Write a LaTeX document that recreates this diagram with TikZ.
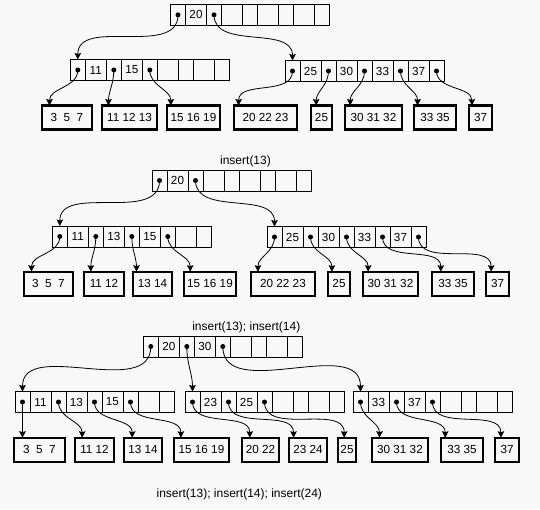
\documentclass[tikz,border=0pt]{standalone}
\usepackage{fontspec}
\setmainfont{Liberation Sans}
\usetikzlibrary{arrows.meta,calc}
\definecolor{bgc}{HTML}{F8F8F8}
\tikzset{
  cellp/.style={draw=black, line width=0.8pt, minimum width=15pt, minimum height=21pt, inner sep=0pt, outer sep=0pt, anchor=north west},
  cellk/.style={cellp, minimum width=21pt, font=\fontsize{11.7}{12}\selectfont},
  leafbox/.style={draw=black, line width=2.4pt, inner sep=0pt, outer sep=0pt, minimum height=24pt, font=\fontsize{11.7}{12}\selectfont},
  ptr/.style={line width=0.8pt, -{Stealth[length=6.5pt,width=6.5pt,inset=1pt]}},
  lbl/.style={font=\fontsize{12}{13}\selectfont, inner sep=0pt},
}
\newcommand{\bnode}[7]{%
  \node[cellp] (#1p0) at (#2,#3) {};
  \node[cellk] (#1k1) at (#1p0.north east) {#4};
  \node[cellp] (#1p1) at (#1k1.north east) {};
  \node[cellk] (#1k2) at (#1p1.north east) {#5};
  \node[cellp] (#1p2) at (#1k2.north east) {};
  \node[cellk] (#1k3) at (#1p2.north east) {#6};
  \node[cellp] (#1p3) at (#1k3.north east) {};
  \node[cellk] (#1k4) at (#1p3.north east) {#7};
  \node[cellp] (#1p4) at (#1k4.north east) {};
}
\newcommand{\leaf}[5]{%
  \node[leafbox, minimum width={(#3-#2-2.4)*1pt}] (#1) at ({(#2+#3)/2},#4) {#5};
}
\newcommand{\conn}[2]{%
  \fill (#1.center) circle[radius=2.5pt];
  \draw[ptr] (#1.center) to[out=-90,in=90] (#2);
}
\begin{document}
\begin{tikzpicture}[x=1pt,y=-1pt]
\fill[bgc] (0,0) rectangle (540,509);
\useasboundingbox (0,0) rectangle (540,509);

% ---------- tree 1 ----------
\bnode{t1r}{170.5}{4.3}{20}{}{}{}
\bnode{t1L}{70.3}{59.5}{11}{15}{}{}
\bnode{t1R}{285}{60.5}{25}{30}{33}{37}
\leaf{t1a}{41}{93}{117.5}{3~~5~~7}
\leaf{t1b}{101}{158}{117.5}{11 12 13}
\leaf{t1c}{166}{221}{117.5}{15 16 19}
\leaf{t1d}{233}{298}{117.5}{20 22 23}
\leaf{t1e}{310}{333}{117.5}{25}
\leaf{t1f}{344}{403}{117.5}{30 31 32}
\leaf{t1g}{413}{457}{117.5}{33 35}
\leaf{t1h}{468}{493}{117.5}{37}
\conn{t1rp0}{t1Lp0.north}
\conn{t1rp1}{t1Rp0.north}
\conn{t1Lp0}{$(t1a.north west)+(7.3,0)$}
\conn{t1Lp1}{$(t1b.north west)+(6.3,0)$}
\conn{t1Lp2}{$(t1c.north west)+(3.6,0)$}
\conn{t1Rp0}{$(t1d.north west)+(4.4,0)$}
\conn{t1Rp1}{$(t1e.north west)+(5,0)$}
\conn{t1Rp2}{$(t1f.north west)+(5,0)$}
\conn{t1Rp3}{$(t1g.north west)+(3.4,0)$}
\conn{t1Rp4}{$(t1h.north west)+(2.7,0)$}

% ---------- tree 2 ----------
\node[lbl] (lab1) at (245.5,161) {insert(13)};
\bnode{t2r}{152}{170}{20}{}{}{}
\bnode{t2L}{52.3}{226}{11}{13}{15}{}
\bnode{t2R}{267}{226.5}{25}{30}{33}{37}
\leaf{t2a}{23}{74}{283.7}{3~~5~~7}
\leaf{t2b}{83}{125}{283.7}{11 12}
\leaf{t2c}{132}{173}{283.7}{13 14}
\leaf{t2d}{183}{237}{283.7}{15 16 19}
\leaf{t2e}{250}{316}{283.7}{20 22 23}
\leaf{t2f}{327}{351}{283.7}{25}
\leaf{t2g}{362}{419}{283.7}{30 31 32}
\leaf{t2h}{431}{475}{283.7}{33 35}
\leaf{t2i}{485}{510}{283.7}{37}
\conn{t2rp0}{t2Lp0.north}
\conn{t2rp1}{t2Rp0.north}
\conn{t2Lp0}{$(t2a.north west)+(7.3,0)$}
\conn{t2Lp1}{$(t2b.north west)+(6.6,0)$}
\conn{t2Lp2}{$(t2c.north west)+(3.3,0)$}
\conn{t2Lp3}{$(t2d.north west)+(6,0)$}
\conn{t2Rp0}{$(t2e.north west)+(6.7,0)$}
\conn{t2Rp1}{$(t2f.north west)+(3.7,0)$}
\conn{t2Rp2}{$(t2g.north west)+(5,0)$}
\conn{t2Rp3}{$(t2h.north west)+(8.6,0)$}
\conn{t2Rp4}{$(t2i.north west)+(5,0)$}

% ---------- tree 3 ----------
\node[lbl] (lab2) at (246.3,327.5) {insert(13); insert(14)};
\bnode{t3r}{143.3}{336}{20}{30}{}{}
\bnode{t3A}{15}{391.5}{11}{13}{15}{}
\bnode{t3B}{185}{391.5}{23}{25}{}{}
\bnode{t3C}{353}{391.5}{33}{37}{}{}
\leaf{t3a}{13}{66}{449.7}{3~~5~~7}
\leaf{t3b}{74}{115}{449.7}{11 12}
\leaf{t3c}{123}{163}{449.7}{13 14}
\leaf{t3d}{173}{230}{449.7}{15 16 19}
\leaf{t3e}{241}{280}{449.7}{20 22}
\leaf{t3f}{288}{328}{449.7}{23 24}
\leaf{t3g}{337}{357}{449.7}{25}
\leaf{t3h}{371}{429}{449.7}{30 31 32}
\leaf{t3i}{440}{484}{449.7}{33 35}
\leaf{t3j}{494}{520}{449.7}{37}
\conn{t3rp0}{t3Ap0.north}
\conn{t3rp1}{t3Bp0.north}
\conn{t3rp2}{t3Cp0.north}
\conn{t3Ap0}{t3Ap0.center |- t3a.north}
\conn{t3Ap1}{$(t3b.north west)+(7,0)$}
\conn{t3Ap2}{$(t3c.north west)+(8,0)$}
\conn{t3Ap3}{$(t3d.north west)+(6.7,0)$}
\conn{t3Bp0}{$(t3e.north west)+(7.6,0)$}
\conn{t3Bp1}{$(t3f.north west)+(4.4,0)$}
\conn{t3Bp2}{$(t3g.north west)+(6,0)$}
\conn{t3Cp0}{$(t3h.north west)+(7.3,0)$}
\conn{t3Cp1}{$(t3i.north west)+(4,0)$}
\conn{t3Cp2}{$(t3j.north west)+(5.7,0)$}
\node[lbl] (lab3) at (239.3,494) {insert(13); insert(14); insert(24)};
\end{tikzpicture}
\end{document}
